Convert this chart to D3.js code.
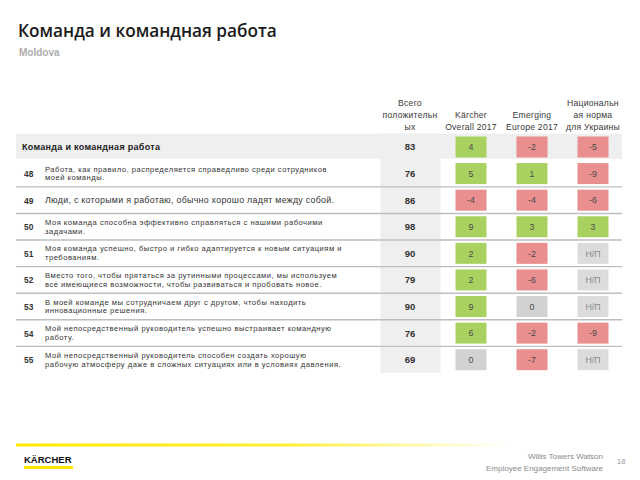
<!DOCTYPE html>
<html><head><meta charset="utf-8">
<script src="https://cdn.jsdelivr.net/npm/d3@7"></script>
<style>body{margin:0;background:#fff}svg{display:block}</style>
</head><body>
<script>
// ---- data ----
const title = "Команда и командная работа";
const subtitle = "Moldova";
const columnHeaders = [
  ["Всего", "положительн", "ых"],
  ["Kärcher", "Overall 2017"],
  ["Emerging", "Europe 2017"],
  ["Национальн", "ая норма", "для Украины"]
];
const rowIds = ["", "48", "49", "50", "51", "52", "53", "54", "55"];
const rowLabels = [
  "Команда и командная работа",
  "Работа, как правило, распределяется справедливо среди сотрудников\nмоей команды.",
  "Люди, с которыми я работаю, обычно хорошо ладят между собой.",
  "Моя команда способна эффективно справляться с нашими рабочими\nзадачами.",
  "Моя команда успешно, быстро и гибко адаптируется к новым ситуациям и\nтребованиям.",
  "Вместо того, чтобы прятаться за рутинными процессами, мы используем\nвсе имеющиеся возможности, чтобы развиваться и пробовать новое.",
  "В моей команде мы сотрудничаем друг с другом, чтобы находить\nинновационные решения.",
  "Мой непосредственный руководитель успешно выстраивает командную\nработу.",
  "Мой непосредственный руководитель способен создать хорошую\nрабочую атмосферу даже в сложных ситуациях или в условиях давления."
];
const totalPositive = [83, 76, 86, 98, 90, 79, 90, 76, 69];
const karcherOverall = [4, 5, -4, 9, 2, 2, 9, 6, 0];
const emergingEurope = [-2, 1, -4, 3, -2, -6, 0, -2, -7];
const nationalNorm = [-5, -9, -6, 3, null, null, null, -9, null];
const naLabel = "Н/П";
const footerRight = ["Willis Towers Watson", "Employee Engagement Software"];
const pageNumber = "18";
const logoText = "KÄRCHER";

// ---- layout ----
const W = 640, H = 480;
const font = "'Liberation Sans', Arial, sans-serif";
const svg = d3.select("body").append("svg").attr("width", W).attr("height", H)
  .style("font-family", font);

const y = d3.scaleBand().domain(d3.range(rowIds.length)).range([133.7, 373]).paddingInner(0);
const colKeys = ["total", "karcher", "emerging", "national"];
const x = d3.scalePoint().domain(colKeys).range([410, 593]);
const diffCols = [
  {key: "karcher", values: karcherOverall},
  {key: "emerging", values: emergingEurope},
  {key: "national", values: nationalNorm}
];
const color = v => v === null ? "#DCDCDC" : v > 0 ? "#A9D160" : v < 0 ? "#E98F8F" : "#D2D2D2";

// title
svg.append("text").attr("x", 18).attr("y", 37).text(title)
  .style("font-family", "'Open Sans', sans-serif").style("font-weight", 600)
  .style("font-size", "17.2px").attr("fill", "#1a1a1a");
svg.append("text").attr("x", 19).attr("y", 56).text(subtitle)
  .style("font-weight", 700).style("font-size", "10px").attr("fill", "#ADADAD");

// column headers
columnHeaders.forEach((lines, i) => {
  const n = lines.length;
  lines.forEach((ln, j) => {
    svg.append("text").attr("x", x(colKeys[i])).attr("y", 130 - (n - 1 - j) * 12)
      .attr("text-anchor", "middle").style("font-size", "8.6px").style("letter-spacing", "0.25px")
      .attr("fill", "#3a3a3a").text(ln);
  });
});

// header band
svg.append("rect").attr("x", 16).attr("y", y(0)).attr("width", 606).attr("height", y.bandwidth() - 1.5)
  .attr("fill", "#EFEFEF");
// total column band
svg.append("rect").attr("x", x("total") - 29.5).attr("y", y(0)).attr("width", 60)
  .attr("height", y(rowIds.length - 1) + y.bandwidth() - y(0)).attr("fill", "#EFEFEF");

// row separators
d3.range(2, rowIds.length).forEach(i => {
  svg.append("line").attr("x1", 16).attr("x2", 622).attr("y1", y(i)).attr("y2", y(i))
    .attr("stroke", "#BEBEBE").attr("stroke-width", 1.4);
});

// rows
rowIds.forEach((id, i) => {
  const cy = y(i) + y.bandwidth() / 2;
  if (i === 0) {
    svg.append("text").attr("x", 22).attr("y", cy + 3).text(rowLabels[i])
      .style("font-size", "9px").style("font-weight", 700).style("letter-spacing", "0.3px").attr("fill", "#222");
  } else {
    svg.append("text").attr("x", 24).attr("y", cy + 3.5).text(id)
      .style("font-size", "8.4px").style("font-weight", 700).attr("fill", "#333");
    const lines = rowLabels[i].split("\n");
    if (lines.length === 1) {
      svg.append("text").attr("x", 45).attr("y", cy + 3.2).text(lines[0])
        .style("font-size", "8.8px").style("letter-spacing", "0.3px").attr("fill", "#333");
    } else {
      lines.forEach((ln, j) => {
        svg.append("text").attr("x", 45).attr("y", cy - 2 + j * 8.8).text(ln)
          .style("font-size", "7.6px").style("letter-spacing", "0.5px").attr("fill", "#333");
      });
    }
  }
  svg.append("text").attr("x", x("total")).attr("y", cy + 3.5).attr("text-anchor", "middle")
    .text(totalPositive[i]).style("font-size", "9.5px").style("font-weight", 700).attr("fill", "#333");
});

// colored boxes
diffCols.forEach(col => {
  const g = svg.append("g");
  g.selectAll("rect").data(col.values).join("rect")
    .attr("x", x(col.key) - 15.5).attr("y", (d, i) => y(i) + y.bandwidth() / 2 - 10.5)
    .attr("width", 31).attr("height", 21).attr("fill", d => color(d));
  g.selectAll("text").data(col.values).join("text")
    .attr("x", x(col.key)).attr("y", (d, i) => y(i) + y.bandwidth() / 2 + 3.2)
    .attr("text-anchor", "middle").style("font-size", "8.8px")
    .attr("fill", d => d === null ? "#8a8a8a" : "#4a4a4a")
    .text(d => d === null ? naLabel : d);
});

// footer
const defs = svg.append("defs");
const grad = defs.append("linearGradient").attr("id", "yl").attr("x1", "0%").attr("x2", "100%");
grad.append("stop").attr("offset", "0%").attr("stop-color", "#FFE900");
grad.append("stop").attr("offset", "55%").attr("stop-color", "#FFEE33");
grad.append("stop").attr("offset", "100%").attr("stop-color", "#FFFFFF");
svg.append("rect").attr("x", 16).attr("y", 443.5).attr("width", 490).attr("height", 3).attr("fill", "url(#yl)");
svg.append("text").attr("x", 24).attr("y", 463).text(logoText)
  .style("font-size", "9.5px").style("font-weight", 700).attr("fill", "#111");
svg.append("rect").attr("x", 24).attr("y", 466).attr("width", 49).attr("height", 3).attr("fill", "#FFE500");
footerRight.forEach((t, i) => {
  svg.append("text").attr("x", 603).attr("y", 459 + i * 12).attr("text-anchor", "end").text(t)
    .style("font-size", "8px").attr("fill", "#8a8a8a");
});
svg.append("text").attr("x", 617).attr("y", 464).text(pageNumber).style("font-size", "7.5px").attr("fill", "#999");
</script>
</body></html>
